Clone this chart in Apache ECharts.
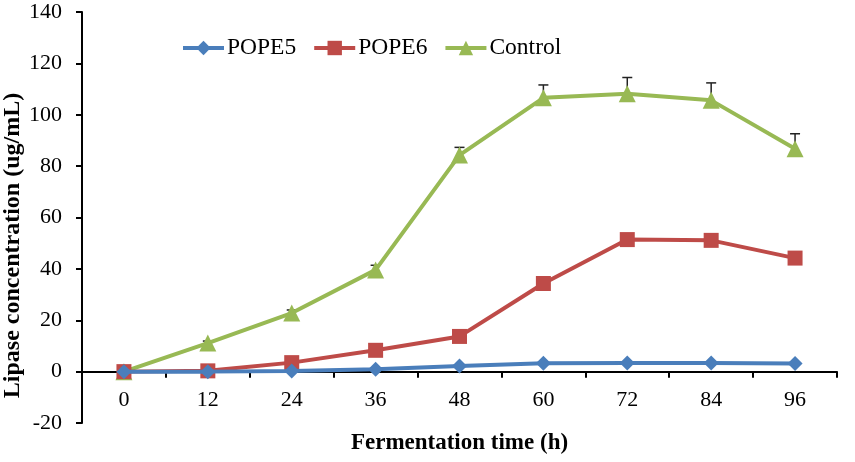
<!DOCTYPE html>
<html><head><meta charset="utf-8">
<script src="https://cdn.jsdelivr.net/npm/echarts@6/dist/echarts.min.js"></script>
<style>html,body{margin:0;padding:0;background:#fff}#c{width:855px;height:462px}</style>
</head><body><div id="c"></div>
<script>
const categories = ['0','12','24','36','48','60','72','84','96'];
const pope5 = [0, 0, 0.2, 0.9, 2.2, 3.3, 3.4, 3.4, 3.2];
const pope6 = [0, 0.3, 3.5, 8.3, 13.7, 34.3, 51.4, 51.1, 44.2];
const control = [0, 11.1, 22.8, 39.6, 84.3, 106.6, 108.2, 105.6, 86.8];
const controlErr = [0, 0.8, 1.2, 1.8, 3.0, 5.0, 6.3, 6.8, 5.8];
const yTicks = {min: -20, max: 140, interval: 20};

const font = '"Liberation Serif", "Times New Roman", serif';
const chart = echarts.init(document.getElementById('c'));
const errData = control.map((v, i) => [i, v, v + controlErr[i]]);
chart.setOption({
  animation: false,
  textStyle: {fontFamily: font},
  legend: {
    top: 31, left: 176,
    itemWidth: 41, itemHeight: 18, itemGap: 16,
    lineStyle: {width: 4},
    textStyle: {fontFamily: font, fontSize: 23.5, color: '#000', padding: [0, 0, 0, -2]},
    data: ['POPE5', 'POPE6', 'Control']
  },
  grid: {left: 82, top: 12, right: 18, bottom: 39, containLabel: false, outerBoundsMode: 'none'},
  xAxis: {
    type: 'category', data: categories, boundaryGap: true,
    name: 'Fermentation time (h)', nameLocation: 'middle', nameGap: 9, nameMoveOverlap: false,
    nameTextStyle: {fontFamily: font, fontSize: 23, fontWeight: 'bold', color: '#000'},
    axisLine: {onZero: true, lineStyle: {color: '#000', width: 2}},
    axisTick: {show: true, length: 6, inside: false, alignWithLabel: false, lineStyle: {color: '#000', width: 2}},
    axisLabel: {fontFamily: font, fontSize: 22, color: '#000', margin: -34}
  },
  yAxis: {
    type: 'value', min: yTicks.min, max: yTicks.max, interval: yTicks.interval,
    name: 'Lipase concentration (ug/mL)', nameLocation: 'middle', nameGap: 57, nameMoveOverlap: false,
    nameTextStyle: {fontFamily: font, fontSize: 24, fontWeight: 'bold', color: '#000', padding: [0, 56, 0, 0]},
    axisLine: {show: true, lineStyle: {color: '#000', width: 2}},
    axisTick: {show: true, length: 6, lineStyle: {color: '#000', width: 2}},
    axisLabel: {fontFamily: font, fontSize: 22, color: '#000', margin: 20},
    splitLine: {show: false}
  },
  series: [
    {
      type: 'custom', name: 'err', silent: true, z: 1,
      data: errData,
      renderItem: function (params, api) {
        const x = api.value(0);
        const lo = api.coord([x, api.value(1)]);
        const hi = api.coord([x, api.value(2)]);
        const style = {stroke: '#222', lineWidth: 1.5};
        return {type: 'group', children: [
          {type: 'line', shape: {x1: lo[0], y1: lo[1], x2: hi[0], y2: hi[1]}, style: style},
          {type: 'line', shape: {x1: hi[0] - 5, y1: hi[1], x2: hi[0] + 5, y2: hi[1]}, style: style}
        ]};
      }
    },
    {
      name: 'POPE5', type: 'line', data: pope5, z: 4,
      symbol: 'diamond', symbolSize: 15,
      lineStyle: {color: '#4a7ebb', width: 4},
      itemStyle: {color: '#4a7ebb'}
    },
    {
      name: 'POPE6', type: 'line', data: pope6, z: 3,
      symbol: 'rect', symbolSize: 15,
      lineStyle: {color: '#be4b48', width: 4},
      itemStyle: {color: '#be4b48'}
    },
    {
      name: 'Control', type: 'line', data: control, z: 2,
      symbol: 'triangle', symbolSize: 17,
      lineStyle: {color: '#98b954', width: 4},
      itemStyle: {color: '#98b954'}
    }
  ]
});
</script></body></html>
